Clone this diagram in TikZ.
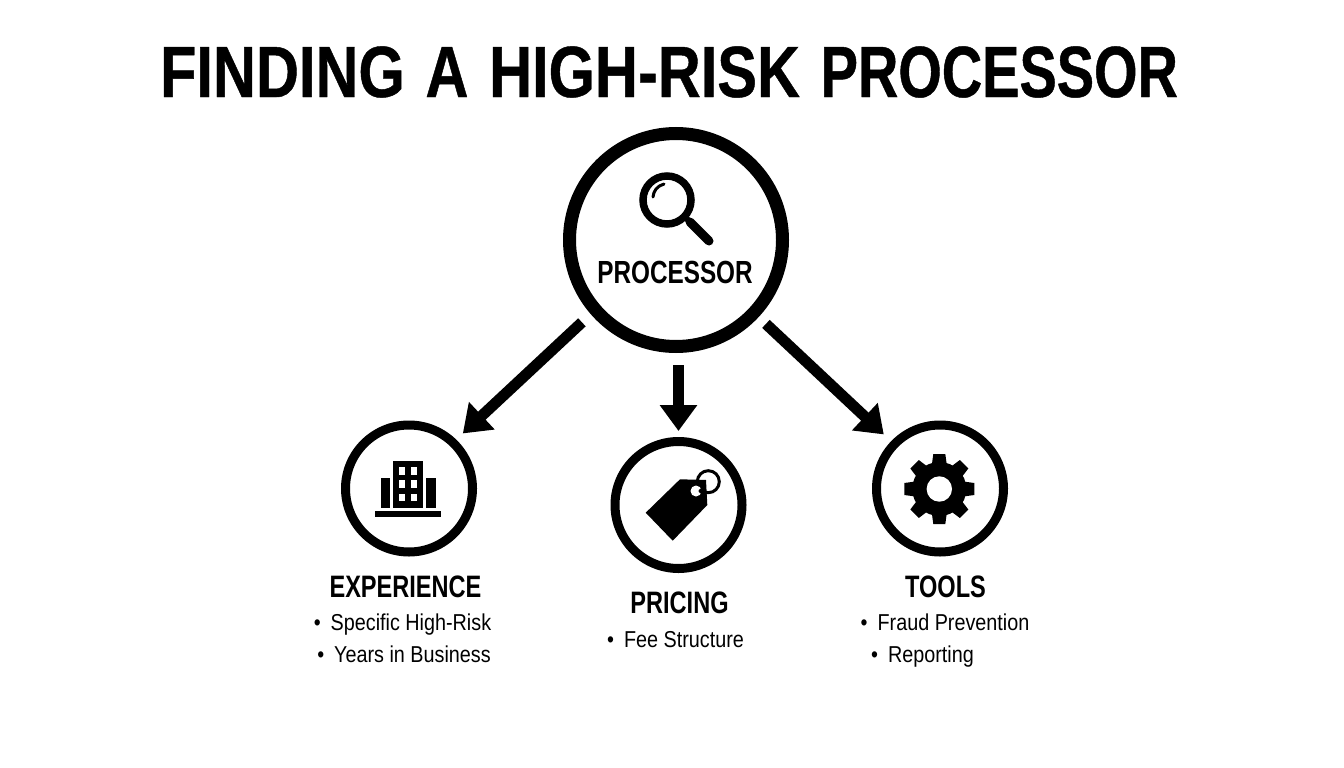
\documentclass[tikz,border=0pt]{standalone}
\usepackage{fontspec}
\usetikzlibrary{arrows.meta}
\newfontfamily\headfont[FakeStretch=0.82, WordSpace=1.25, BoldFeatures={FakeBold=0.6}]{Liberation Sans}
\newfontfamily\headtight[FakeStretch=0.77, WordSpace=1.25, BoldFeatures={FakeBold=0.6}]{Liberation Sans}
\newfontfamily\labelfont[FakeStretch=0.76]{Liberation Sans}
\newfontfamily\itemfont[FakeStretch=0.86]{Liberation Sans}

\begin{document}
\begin{tikzpicture}[x=1pt, y=-1pt]
    \tikzstyle{big_node}   = [shape = circle, draw = black, line width=13pt, minimum size=213pt, inner sep=0pt]
    \tikzstyle{small_node} = [shape = circle, draw = black, line width=9pt,  minimum size=127pt, inner sep=0pt]
    \tikzstyle{head_text}  = [anchor = base, inner sep=0pt, font=\headfont\bfseries\fontsize{72.6}{80}\selectfont]
    \tikzstyle{proc_text}  = [anchor = base, inner sep=0pt, font=\labelfont\bfseries\fontsize{32}{36}\selectfont]
    \tikzstyle{name_text}  = [anchor = base, inner sep=0pt, font=\labelfont\bfseries\fontsize{31}{36}\selectfont]
    \tikzstyle{item_text}  = [anchor = base, inner sep=0pt, font=\itemfont\fontsize{23}{26}\selectfont]
    \tikzstyle{link}       = [-{Triangle[width=36pt, length=26pt]}, line width=11pt, black]

    \useasboundingbox (0, 0) rectangle (1344, 768);

    \node[head_text] at (669, 97) (title) {FINDING A HIGH-RISK {\headtight\bfseries PROCESSOR}};

    \node[big_node]   at (676, 240) (proc) {};
    \node[small_node] at (409, 488.5) (expr) {};
    \node[small_node] at (678.5, 505) (pric) {};
    \node[small_node] at (940, 488.5) (tool) {};

    \node[proc_text] at (675, 283) (proc_name) {PROCESSOR};
    \node[name_text] at (405.5, 597) (expr_name) {EXPERIENCE};
    \node[name_text] at (679.5, 613) (pric_name) {PRICING};
    \node[name_text] at (945.5, 597) (tool_name) {TOOLS};

    \node[item_text] at (402.5, 630) (expr_a) {•\hspace{10pt}Specific High-Risk};
    \node[item_text] at (404,   662) (expr_b) {•\hspace{10pt}Years in Business};
    \node[item_text] at (675.5, 647) (pric_a) {•\hspace{10pt}Fee Structure};
    \node[item_text] at (945,   630) (tool_a) {•\hspace{10pt}Fraud Prevention};
    \node[item_text] at (922.5, 662) (tool_b) {•\hspace{10pt}Reporting};

    \draw[link, shorten <=12pt, shorten >=9pt]  (proc.221) -- (expr.46);
    \draw[link, shorten <=10pt, shorten >=10pt] (proc.-43) -- (tool.136);
    \draw[link, shorten <=12pt, shorten >=6pt]  (proc.south -| pric.north) -- (pric.north);

    % magnifier
    \draw[line width=7.5pt] (667, 200) circle (24);
    \draw[line width=3pt, line cap=round] (653, 197) .. controls (653.5, 191) and (657, 186) .. (664, 184);
    \draw[line width=6pt] (686, 218) -- (692, 224);
    \draw[line width=9pt, line cap=round] (690, 222) -- (709, 241);

    % building
    \fill (393.3, 460.7) rectangle (422.7, 507.7);
    \fill (380.7, 478.3) rectangle (390.3, 507.7);
    \fill (426.3, 478.3) rectangle (435.7, 507.7);
    \fill (374.7, 511.3) rectangle (441.3, 517.3);
    \foreach \wy in {467.3, 480.3, 493.7} {
      \fill[white] (399.3, \wy) rectangle +(6, 7.7);
      \fill[white] (411, \wy) rectangle +(6, 7.7);
    }

    % price tag
    \draw[line width=3pt] (708.3, 481.7) circle (11);
    \fill (645.7, 512.7) -- (680, 479.3) -- (706, 480) -- (707.3, 505) -- (672.7, 540.7) -- cycle;
    \fill[white] (696, 491) circle (5.5);
    \fill (700.5, 491) circle (2);

    % gear
    \fill (939.3, 489) circle (27);
    \foreach \ang in {0, 45, ..., 315} {
      \fill[shift={(939.3, 489)}, rotate=\ang] (24, -7.5) -- (35, -6) -- (35, 6) -- (24, 7.5) -- cycle;
    }
    \fill[white] (939.3, 489) circle (12.7);
  \end{tikzpicture}
\end{document}
